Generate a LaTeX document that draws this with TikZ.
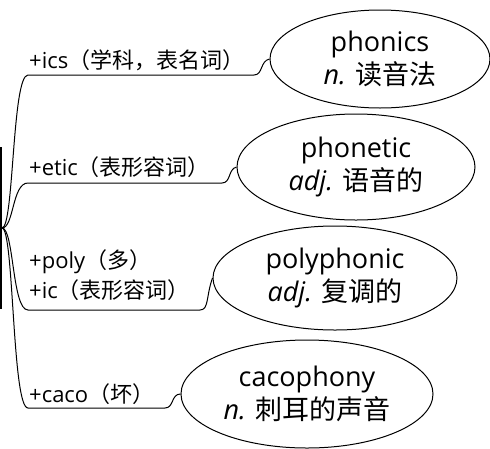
\documentclass[tikz,border=0pt]{standalone}
\usepackage{fontspec}
\setmainfont{Open Sans}
\newfontfamily\cjkfont{Noto Sans CJK SC}
\newcommand{\zh}[1]{{\cjkfont #1}}
\usetikzlibrary{shapes.geometric}
\tikzset{
	word/.style={ellipse, draw, line width=1pt, inner sep=0pt, align=center,
		font=\fontsize{27}{33}\selectfont},
	affix/.style={anchor=base west, inner sep=0pt, font=\fontsize{22}{26}\selectfont},
	branch/.style={line width=1pt},
}
\begin{document}
\begin{tikzpicture}[x=1pt,y=-1pt]
	\useasboundingbox (0,0) rectangle (490,448);
	\clip (0,0) rectangle (490,448);
	% root box, mostly off the page
	\node[draw, line width=2pt, minimum width=120pt, minimum height=160pt] (root) at (-59,228) {};
	% words
	\node[word, minimum width=220pt, minimum height=98pt] (ph) at (380,59) {phonics\\\textit{n.} \zh{读音法}};
	\node[word, minimum width=238pt, minimum height=106pt] (pt) at (356,167) {phonetic\\\textit{adj.} \zh{语音的}};
	\node[word, minimum width=244pt, minimum height=104pt] (py) at (335,278) {polyphonic\\\textit{adj.} \zh{复调的}};
	\node[word, minimum width=252pt, minimum height=108pt] (ca) at (307,394) {cacophony\\\textit{n.} \zh{刺耳的声音}};
	% affixes
	\node[affix] (lph) at (29,68) {+ics\zh{（学科，表名词）}};
	\node[affix] (lpt) at (29,175) {+etic\zh{（表形容词）}};
	\node[affix] (lpy) at (29,268) {+poly\zh{（多）}};
	\node[affix] (lic) at (29,298) {+ic\zh{（表形容词）}};
	\node[affix] (lca) at (29,402) {+caco\zh{（坏）}};
	% branches
	\foreach \n/\y/\x in {ph/75/254, pt/183/222, py/310/200, ca/408/165}
		\draw[branch] (root.east) .. controls (14,228) and (12,\y) .. (28,\y) -- (\x,\y)
			.. controls (\x+9,\y) and (\x+6,\y-14) .. (\n.west);
\end{tikzpicture}
\end{document}
